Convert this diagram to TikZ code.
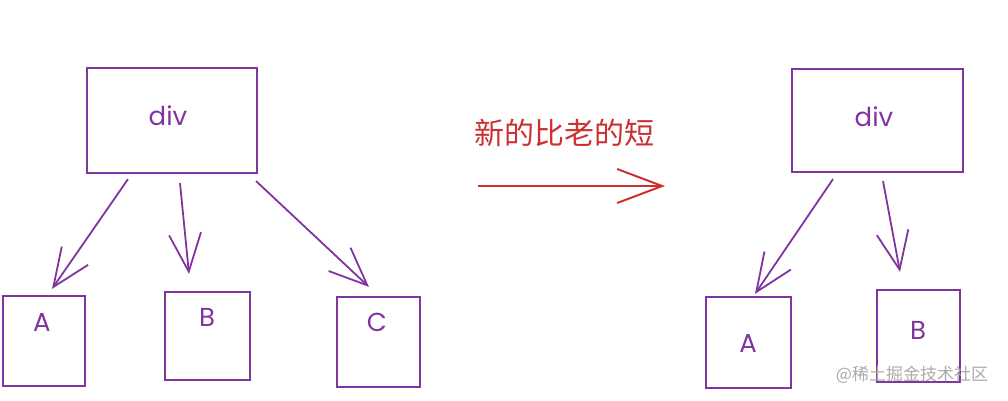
\documentclass[tikz,border=0pt]{standalone}
\usepackage{fontspec}
\setsansfont{Poppins}
\newfontfamily\cjkfont{Noto Sans CJK SC}
\usetikzlibrary{arrows.meta}
\definecolor{SketchPurple}{RGB}{128,52,160}
\definecolor{SketchRed}{RGB}{204,48,48}
\definecolor{MarkGray}{RGB}{170,170,170}
\tikzset{
    box/.style={draw=SketchPurple, line width=2.2pt, inner sep=0pt},
    box label/.style={text=SketchPurple, font=\sffamily\fontsize{26}{26}\selectfont},
    link/.style={draw=SketchPurple, line width=1.8pt,
        -{Straight Barb[length=38pt, width=32pt, line width=1.8pt]}},
}

\begin{document}
\begin{tikzpicture}[x=1pt, y=-1pt]
\useasboundingbox (0,0) rectangle (1008,400);

% Arbol de antes
\node[box, minimum width=170pt, minimum height=105pt] (divL) at (172,120.5) {};
\node[box, minimum width=82pt, minimum height=90pt] (aL) at (44,341) {};
\node[box, minimum width=85pt, minimum height=88pt] (bL) at (207.5,336) {};
\node[box, minimum width=83pt, minimum height=90pt] (cL) at (378.5,342) {};

\node[box label] at (168,116) {div};
\node[box label] at (42,322) {A};
\node[box label] at (207,317) {B};
\node[box label] at (377,322) {C};

\draw[link] ([xshift=-44pt, yshift=-5pt]divL.south) -- ([xshift=8pt, yshift=6pt]aL.north);
\draw[link] ([xshift=8pt, yshift=-9pt]divL.south) -- ([xshift=-18.5pt, yshift=17pt]bL.north);
\draw[link] ([xshift=-2pt, yshift=-7pt]divL.south east) -- ([xshift=-9.5pt, yshift=9pt]cL.north);

% Flecha del medio
\coordinate (from) at (478,186);
\coordinate (to) at (665,186);
\draw[SketchRed, line width=2pt,
    -{Straight Barb[length=45pt, width=34pt, line width=2pt]}] (from) -- (to);
\node[text=SketchRed, font=\cjkfont\fontsize{30}{30}\selectfont] (title) at (564,133) {新的比老的短};

% Arbol de despues
\node[box, minimum width=171pt, minimum height=103pt] (divR) at (877.5,120.5) {};
\node[box, minimum width=85pt, minimum height=91pt] (aR) at (748.5,342.5) {};
\node[box, minimum width=83pt, minimum height=92pt] (bR) at (918.5,336) {};

\node[box label] at (874,117) {div};
\node[box label] at (748,343) {A};
\node[box label] at (918,330) {B};

\draw[link] ([xshift=-44.5pt, yshift=-6pt]divR.south) -- ([xshift=6.5pt, yshift=2pt]aR.north);
\draw[link] ([xshift=5.5pt, yshift=-8pt]divR.south) -- ([xshift=-18.5pt, yshift=17pt]bR.north);

\node[text=MarkGray, font=\cjkfont\fontsize{17}{17}\selectfont] (mark) at (912,375) {@稀土掘金技术社区};
\end{tikzpicture}
\end{document}
